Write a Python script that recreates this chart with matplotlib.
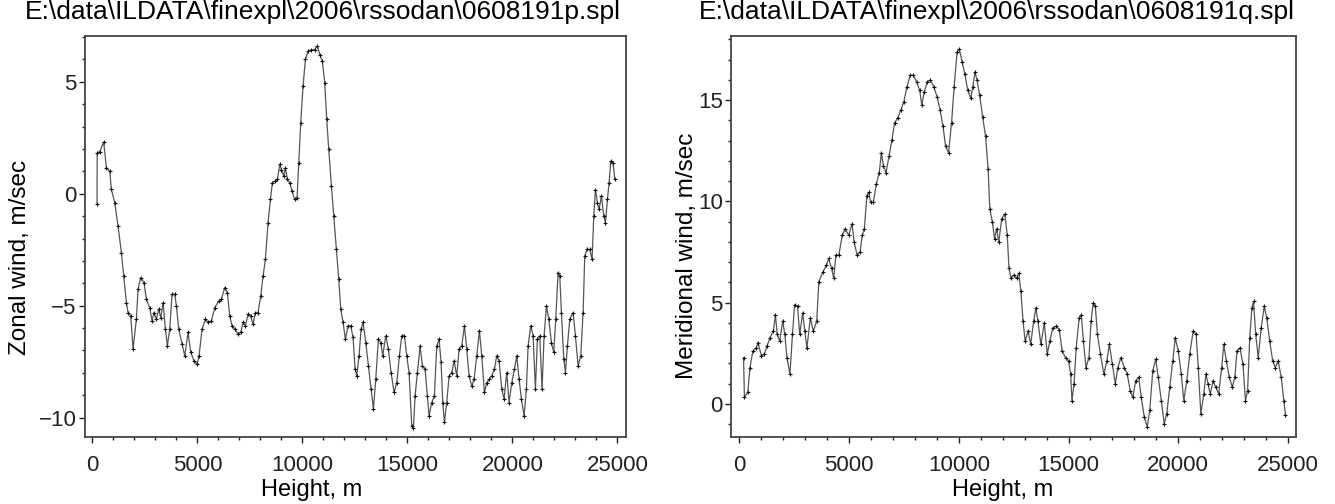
import numpy as np
import matplotlib.pyplot as plt
from matplotlib.ticker import MultipleLocator

plt.rcParams['font.family'] = ['Liberation Sans', 'DejaVu Sans']

# zonal wind profile (height m, wind m/s)
zonal_h = [224, 230, 351, 541, 669, 827, 906, 1065, 1224, 1382, 1494, 1621, 1700, 1827, 1938,
           2097, 2175, 2303, 2460, 2572, 2730, 2843, 2938, 3048, 3160, 3255, 3366, 3478, 3573,
           3684, 3795, 3922, 4002, 4113, 4273, 4400, 4557, 4686, 4843, 4986, 5081, 5224, 5383,
           5510, 5668, 5828, 6017, 6144, 6303, 6430, 6541, 6652, 6779, 6938, 7065, 7175, 7287,
           7413, 7540, 7652, 7763, 7890, 8017, 8129, 8240, 8367, 8478, 8573, 8684, 8811, 8922,
           9002, 9113, 9192, 9287, 9398, 9509, 9636, 9748, 9827, 9922, 10033, 10144, 10271,
           10430, 10589, 10716, 10827, 10954, 11065, 11160, 11256, 11383, 11494, 11621, 11732,
           11827, 11938, 12049, 12175, 12302, 12413, 12510, 12589, 12700, 12795, 12890, 13018,
           13145, 13272, 13383, 13494, 13621, 13732, 13827, 13970, 14097, 14224, 14367, 14494,
           14621, 14732, 14859, 14970, 15081, 15208, 15288, 15367, 15478, 15605, 15716, 15843,
           15954, 16033, 16160, 16287, 16398, 16510, 16605, 16684, 16764, 16875, 16986, 17113,
           17224, 17351, 17462, 17589, 17716, 17827, 17938, 18065, 18176, 18303, 18430, 18541,
           18668, 18779, 18906, 19017, 19144, 19256, 19367, 19494, 19605, 19732, 19843, 19970,
           20097, 20208, 20319, 20430, 20557, 20668, 20748, 20875, 20986, 21097, 21192, 21303,
           21414, 21510, 21621, 21732, 21859, 21970, 22065, 22176, 22256, 22335, 22446, 22526,
           22621, 22732, 22891, 23002, 23129, 23256, 23367, 23446, 23557, 23684, 23795, 23875,
           23954, 24049, 24129, 24240, 24351, 24430, 24526, 24605, 24684, 24795, 24875]
zonal_v = [-0.47, 1.83, 1.88, 2.31, 1.16, 1.01, 0.2, -0.4, -1.44, -2.63, -3.67, -4.87, -5.31, -5.46,
           -6.95, -5.6, -4.27, -3.75, -3.97, -4.72, -5.09, -5.68, -5.31, -5.61, -5.16, -5.54, -4.87,
           -6.05, -6.79, -6.05, -4.49, -4.49, -5.01, -6.05, -6.72, -7.24, -6.2, -7.09, -7.47, -7.62,
           -7.24, -6.05, -5.6, -5.75, -5.68, -5.09, -4.79, -4.72, -4.19, -4.42, -5.46, -5.9, -6.05,
           -6.27, -6.2, -5.75, -5.9, -5.39, -5.46, -5.83, -5.31, -5.31, -4.57, -3.67, -2.93, -1.29,
           -0.25, 0.49, 0.56, 0.64, 1.31, 1.08, 0.79, 1.16, 0.64, 0.49, 0.12, -0.25, -0.17, 1.38,
           3.17, 4.81, 6.0, 6.37, 6.44, 6.44, 6.62, 6.22, 5.92, 4.95, 3.32, 1.98, 0.34, -1.0, -2.49,
           -3.82, -5.16, -5.75, -6.5, -5.9, -5.9, -6.42, -7.84, -8.14, -7.24, -6.05, -5.75, -6.65,
           -7.69, -8.73, -9.63, -8.29, -6.5, -6.65, -7.24, -6.35, -6.95, -7.99, -8.88, -8.44, -7.24,
           -6.35, -6.35, -7.24, -7.99, -10.37, -10.45, -9.03, -7.99, -6.8, -7.69, -7.84, -9.03,
           -9.93, -9.33, -9.03, -6.8, -6.5, -7.54, -9.33, -10.22, -9.33, -8.14, -7.99, -7.47, -8.14,
           -6.95, -6.8, -5.9, -6.95, -8.14, -8.59, -8.29, -7.24, -6.12, -7.24, -8.88, -8.44, -8.29,
           -8.14, -7.84, -7.24, -7.47, -8.73, -9.18, -7.99, -9.33, -8.44, -7.84, -7.24, -8.29,
           -9.18, -9.93, -8.73, -6.8, -5.9, -6.35, -8.73, -6.5, -6.35, -8.73, -6.35, -5.01, -5.6,
           -6.65, -7.09, -5.6, -3.52, -3.67, -5.31, -7.39, -7.99, -6.8, -5.6, -5.31, -6.35, -7.69,
           -7.24, -5.31, -2.78, -2.49, -2.49, -2.93, -1.0, 0.19, -0.4, -0.7, -0.1, -1.0, -1.29,
           -0.25, 0.49, 1.46, 1.38, 0.64]

# meridional wind profile
merid_h = [194, 233, 388, 485, 620, 775, 853, 1008, 1143, 1260, 1395, 1550, 1647, 1725, 1841, 1977,
           2074, 2171, 2306, 2423, 2519, 2655, 2752, 2888, 2984, 3081, 3236, 3372, 3527, 3624,
           3818, 3973, 4070, 4205, 4302, 4399, 4535, 4690, 4826, 4981, 5136, 5233, 5368, 5504,
           5601, 5698, 5814, 5892, 5988, 6105, 6240, 6376, 6473, 6570, 6686, 6822, 6957, 7074,
           7209, 7364, 7500, 7636, 7791, 7926, 8081, 8217, 8314, 8430, 8566, 8702, 8857, 9012,
           9147, 9283, 9399, 9535, 9671, 9787, 9923, 10020, 10155, 10271, 10407, 10542, 10640,
           10737, 10833, 10950, 11085, 11221, 11337, 11415, 11531, 11628, 11725, 11822, 11957,
           12093, 12209, 12287, 12384, 12500, 12636, 12733, 12830, 12927, 13024, 13160, 13276,
           13411, 13508, 13605, 13741, 13896, 14031, 14147, 14283, 14438, 14574, 14709, 14864,
           15000, 15097, 15155, 15252, 15349, 15485, 15582, 15679, 15795, 15930, 16027, 16124,
           16221, 16318, 16454, 16609, 16744, 16861, 16996, 17132, 17248, 17384, 17539, 17675,
           17810, 17927, 18062, 18198, 18314, 18450, 18585, 18702, 18837, 18973, 19089, 19225,
           19360, 19477, 19613, 19748, 19865, 20000, 20136, 20252, 20388, 20523, 20678, 20814,
           20911, 21027, 21163, 21260, 21357, 21454, 21589, 21706, 21841, 21977, 22074, 22190,
           22326, 22461, 22578, 22675, 22810, 22946, 23062, 23159, 23256, 23353, 23430, 23527,
           23643, 23779, 23915, 24031, 24167, 24302, 24419, 24554, 24690, 24806, 24884]
merid_v = [2.28, 0.33, 0.57, 1.79, 2.61, 2.77, 3.02, 2.37, 2.45, 2.85, 3.26, 3.59, 4.4, 3.43, 3.1,
           4.08, 3.43, 2.28, 1.47, 3.43, 4.89, 4.81, 3.43, 4.49, 3.59, 2.77, 4.24, 3.59, 4.08, 6.04,
           6.53, 6.85, 7.18, 6.69, 6.2, 7.34, 7.34, 8.32, 8.65, 8.32, 8.89, 7.99, 7.34, 7.5, 8.32,
           8.65, 10.28, 10.44, 9.95, 9.95, 10.85, 11.42, 12.4, 11.75, 11.42, 12.23, 13.05, 13.87,
           14.11, 14.52, 14.93, 15.66, 16.23, 16.23, 15.9, 15.5, 14.76, 15.42, 15.9, 15.99, 15.66,
           15.17, 14.52, 13.7, 12.72, 12.4, 13.87, 15.66, 17.37, 17.54, 16.88, 16.31, 15.5, 15.09,
           15.66, 16.39, 15.99, 15.25, 14.19, 13.21, 11.58, 9.62, 8.97, 8.16, 8.65, 7.99, 9.14,
           9.38, 8.32, 6.69, 6.2, 6.36, 6.2, 6.44, 5.55, 4.08, 3.1, 3.59, 2.94, 4.08, 4.73, 4.08,
           2.94, 4.0, 2.45, 3.1, 3.75, 3.83, 3.67, 2.61, 2.28, 2.12, 1.47, 0.16, 0.98, 2.77, 4.24,
           4.4, 3.1, 1.79, 2.28, 4.08, 4.97, 4.81, 3.43, 2.45, 1.47, 2.12, 2.94, 1.96, 0.98, 1.79,
           2.28, 1.79, 1.47, 0.65, 0.33, 1.14, 1.31, 0.33, -0.65, -1.14, -0.33, 1.63, 2.2, 1.31,
           0.16, -0.98, -0.49, 0.82, 2.12, 3.26, 2.61, 1.47, 0.16, 1.14, 2.45, 3.59, 3.43, 1.79,
           -0.49, 0.49, 1.47, 0.98, 0.49, 1.14, 0.82, 0.49, 1.79, 2.94, 2.12, 1.31, 0.82, 1.31,
           2.61, 2.77, 1.96, 0.16, 0.65, 3.26, 4.73, 5.06, 3.43, 2.28, 3.75, 4.81, 4.24, 3.1, 2.12,
           1.79, 2.12, 1.31, 0.16, -0.57]

titles = [r"E:\data\ILDATA\finexpl\2006\rssodan\0608191p.spl",
          r"E:\data\ILDATA\finexpl\2006\rssodan\0608191q.spl"]
ylabels = ["Zonal wind, m/sec", "Meridional wind, m/sec"]

fig = plt.figure(figsize=(13.35, 5.04), dpi=100)
W, H = 1335, 504

def make_axes(x0, x1, y0, y1):
    return fig.add_axes([x0 / W, 1 - y1 / H, (x1 - x0) / W, (y1 - y0) / H])

ax1 = make_axes(85, 626, 36, 437)
ax2 = make_axes(731, 1296, 36, 437)

for ax, h, v in [(ax1, zonal_h, zonal_v), (ax2, merid_h, merid_v)]:
    ax.plot(h, v, color='#555555', lw=0.9, marker='+', ms=3, mew=0.8, mec='#111111')
    for s in ax.spines.values():
        s.set_color('#444444')
        s.set_linewidth(1.3)
    ax.tick_params(axis='both', which='major', direction='out', length=4, width=1,
                   labelsize=16, colors='#222222', pad=2)
    ax.tick_params(axis='both', which='minor', direction='out', length=2.5, width=1, colors='#222222')
    ax.tick_params(axis='x', which='major', pad=9)
    ax.tick_params(top=False, right=False)
    ax.xaxis.set_major_locator(MultipleLocator(5000))
    ax.xaxis.set_minor_locator(MultipleLocator(1000))
    ax.yaxis.set_major_locator(MultipleLocator(5))
    ax.yaxis.set_minor_locator(MultipleLocator(1))

ax1.set_xlim(-350, 25410)
ax1.set_ylim(-10.87, 7.05)
ax2.set_xlim(-378, 25364)
ax2.set_ylim(-1.64, 18.17)

# titles, axis labels placed in figure pixels
fig.text(323 / W, 1 - 12 / H, titles[0], ha='center', va='center', fontsize=19)
fig.text(997 / W, 1 - 12 / H, titles[1], ha='center', va='center', fontsize=19)
fig.text(20 / W, 1 - 257 / H, ylabels[0], rotation=90, ha='center', va='center', fontsize=17.5)
fig.text(687 / W, 1 - 256 / H, ylabels[1], rotation=90, ha='center', va='center', fontsize=17.5)
fig.text(312 / W, 1 - 490 / H, "Height, m", ha='center', va='center', fontsize=17)
fig.text(1003 / W, 1 - 490 / H, "Height, m", ha='center', va='center', fontsize=17)

plt.savefig("out.png", dpi=100)
